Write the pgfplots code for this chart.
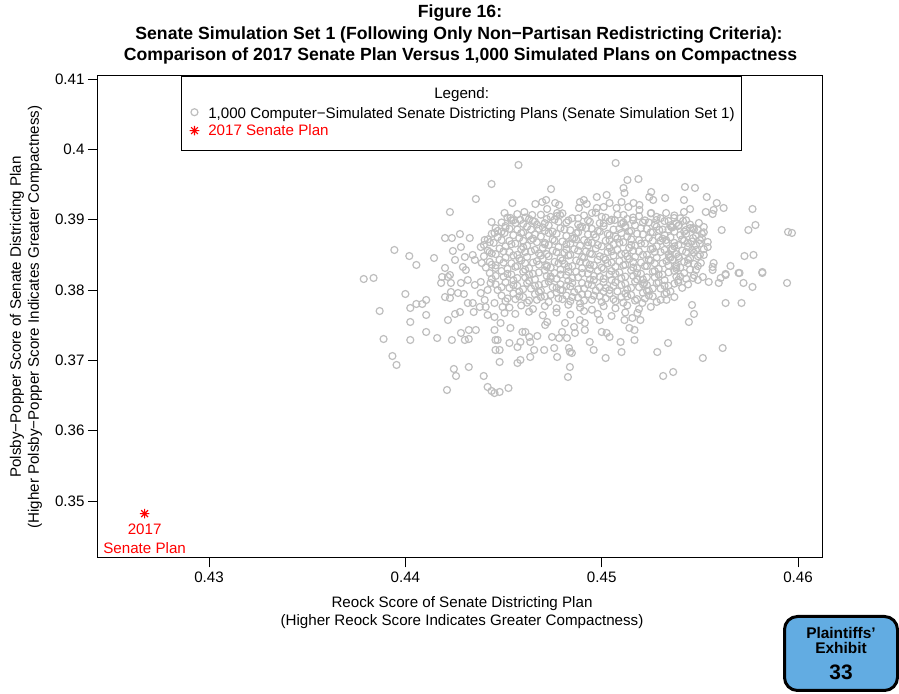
\documentclass[border=0pt]{standalone}
\usepackage{fontspec}
\setmainfont{Liberation Sans}
\usepackage{pgfplots}
\pgfplotsset{compat=1.18}
\definecolor{rgray}{RGB}{190,190,190}
\definecolor{exblue}{RGB}{98,172,226}

% R pch=8 style star (+ and x)
\pgfdeclareplotmark{rstar}{%
  \pgfpathmoveto{\pgfqpoint{-\pgfplotmarksize}{0pt}}\pgfpathlineto{\pgfqpoint{\pgfplotmarksize}{0pt}}%
  \pgfpathmoveto{\pgfqpoint{0pt}{-\pgfplotmarksize}}\pgfpathlineto{\pgfqpoint{0pt}{\pgfplotmarksize}}%
  \pgfpathmoveto{\pgfqpoint{-.7071\pgfplotmarksize}{-.7071\pgfplotmarksize}}\pgfpathlineto{\pgfqpoint{.7071\pgfplotmarksize}{.7071\pgfplotmarksize}}%
  \pgfpathmoveto{\pgfqpoint{-.7071\pgfplotmarksize}{.7071\pgfplotmarksize}}\pgfpathlineto{\pgfqpoint{.7071\pgfplotmarksize}{-.7071\pgfplotmarksize}}%
  \pgfusepathqstroke}

\begin{document}
\begin{tikzpicture}
\useasboundingbox (0,0) rectangle (899bp,694bp);

% title
\node[font=\fontsize{17.7}{20}\selectfont\bfseries] at (460bp,681bp) {Figure 16:};
\node[font=\fontsize{17.7}{20}\selectfont\bfseries] at (459bp,659.5bp) {Senate Simulation Set 1 (Following Only Non−Partisan Redistricting Criteria):};
\node[font=\fontsize{17.7}{20}\selectfont\bfseries] at (460.5bp,638bp) {Comparison of 2017 Senate Plan Versus 1,000 Simulated Plans on Compactness};

\begin{axis}[
  at={(97.5bp,136bp)}, anchor=south west,
  width=724.5bp, height=482bp, scale only axis,
  xmin=0.42432, xmax=0.46122,
  ymin=0.34189, ymax=0.41043,
  xtick={0.43,0.44,0.45,0.46},
  ytick={0.35,0.36,0.37,0.38,0.39,0.4,0.41},
  xtick pos=bottom, ytick pos=left,
  tick align=outside,
  major tick length=9.5bp,
  tick style={black, line width=0.9bp},
  axis line style={black, line width=1bp},
  /pgf/number format/assume math mode=true,
  /pgf/number format/fixed,
  /pgf/number format/precision=2,
  ticklabel style={font=\fontsize{15.2}{17}\selectfont},
  xticklabel style={yshift=-1bp},
  xlabel={Reock Score of Senate Districting Plan\\(Higher Reock Score Indicates Greater Compactness)},
  ylabel={Polsby−Popper Score of Senate Districting Plan\\(Higher Polsby−Popper Score Indicates Greater Compactness)},
  xlabel style={at={(axis description cs:0.5031,-0.1141)}, anchor=center,
    font=\fontsize{15.2}{18}\selectfont, align=center},
  ylabel style={at={(axis description cs:-0.0988,0.5)}, rotate=0, anchor=center,
    font=\fontsize{15.2}{18}\selectfont, align=center},
  legend style={at={(axis description cs:0.1152,1)}, anchor=north west,
    draw=black, line width=1bp, font=\fontsize{15.2}{17}\selectfont,
    inner xsep=4.5bp, inner ysep=3bp, row sep=0bp},
  legend cell align=left,
  clip=false,
]
\addlegendimage{empty legend}
\addlegendentry{\hspace*{233bp}\raisebox{0pt}[17bp][0bp]{Legend:}}

\addplot[only marks, mark=o, mark size=3.5bp, mark options={draw=rgray, line width=1.2bp}] coordinates {
% sparse outer points
(0.44439,0.39507) (0.44359,0.39294) (0.44227,0.39109) (0.44439,0.38967) (0.44202,0.38739)
(0.44237,0.38739) (0.44278,0.38796) (0.44328,0.38739) (0.43944,0.38569) (0.44020,0.38483)
(0.44056,0.38356) (0.44146,0.38455) (0.44454,0.38811) (0.44242,0.38555) (0.44283,0.38611)
(0.44253,0.38427) (0.44303,0.38469) (0.44343,0.38498) (0.44384,0.38611) (0.44404,0.38711)
(0.44354,0.38427) (0.44389,0.38384) (0.44429,0.38540) (0.44293,0.38327) (0.44202,0.38313)
(0.44187,0.38185) (0.44227,0.38213) (0.44308,0.38284) (0.44459,0.38313) (0.43788,0.38156)
(0.43838,0.38171) (0.44000,0.37943) (0.43869,0.37701) (0.44025,0.37744) (0.44056,0.37801)
(0.44086,0.37801) (0.44106,0.37858) (0.44106,0.37645) (0.44025,0.37545) (0.43889,0.37303)
(0.44025,0.37289) (0.44106,0.37403) (0.44162,0.37317) (0.44217,0.37573) (0.44253,0.37659)
(0.44278,0.37687) (0.44237,0.37289) (0.44283,0.37389) (0.44303,0.37289) (0.44323,0.37303)
(0.44323,0.37431) (0.44359,0.37431) (0.43934,0.37061) (0.43955,0.36934) (0.44247,0.36877)
(0.44258,0.36777) (0.44323,0.36905) (0.44399,0.36777) (0.44212,0.36578) (0.44419,0.36621)
(0.44439,0.36564) (0.44454,0.36535) (0.44182,0.38100) (0.44217,0.38185) (0.44202,0.37900)
(0.44227,0.37886) (0.44232,0.37972) (0.44268,0.37957) (0.44298,0.37943) (0.44318,0.37815)
(0.44343,0.37815) (0.44348,0.37687) (0.44379,0.37758) (0.44409,0.37758) (0.44404,0.37858)
(0.44419,0.37645) (0.44454,0.37616) (0.44454,0.37815) (0.44384,0.37957) (0.44419,0.38000)
(0.44434,0.38100) (0.44354,0.38071) (0.44384,0.38114) (0.44318,0.38142) (0.44283,0.38100)
(0.44232,0.38100) (0.44454,0.37431) (0.44459,0.37289) (0.44459,0.37147)
(0.44495,0.37758) (0.44505,0.37673) (0.44535,0.37460) (0.44485,0.37531) (0.44470,0.37289)
(0.44530,0.37246) (0.44480,0.37147) (0.44480,0.36976) (0.44571,0.37189) (0.44586,0.37261)
(0.44596,0.37403) (0.44611,0.37403) (0.44631,0.37332) (0.44636,0.37261) (0.44672,0.37346)
(0.44656,0.37147) (0.44707,0.37147) (0.44586,0.37005) (0.44571,0.36962) (0.44636,0.37047)
(0.44525,0.36606) (0.44480,0.36550) (0.44712,0.37502) (0.44722,0.37545) (0.44747,0.37332)
(0.44758,0.37175) (0.44773,0.37047) (0.44783,0.37317) (0.44798,0.37403) (0.44823,0.37317)
(0.44833,0.37175) (0.44838,0.37118) (0.44848,0.37104) (0.44838,0.36905) (0.44828,0.36763)
(0.44813,0.37531) (0.44859,0.37474) (0.44889,0.37573) (0.44914,0.37531) (0.44914,0.37431)
(0.44864,0.37389) (0.44939,0.37261) (0.44959,0.37147) (0.44990,0.37573) (0.45000,0.37403)
(0.45025,0.37389) (0.45040,0.37332) (0.45020,0.37033) (0.45096,0.37261) (0.45101,0.37118)
(0.45167,0.37289) (0.45141,0.37460) (0.45116,0.37573) (0.45156,0.37602) (0.45167,0.37431)
(0.45182,0.37673) (0.45207,0.37815) (0.45217,0.38100) (0.45197,0.37573)
(0.45465,0.38171) (0.45490,0.38142) (0.45515,0.38185) (0.45545,0.38114) (0.45565,0.38284)
(0.45596,0.38100) (0.45606,0.38171) (0.45631,0.38228) (0.45702,0.38242) (0.45722,0.38100)
(0.45768,0.38043) (0.45818,0.38242) (0.45944,0.38100) (0.45460,0.37787) (0.45470,0.37659)
(0.45444,0.37545) (0.45631,0.37815) (0.45712,0.37815) (0.45338,0.37246) (0.45283,0.37118)
(0.45616,0.37175) (0.45515,0.37033) (0.45364,0.36834) (0.45313,0.36777)
(0.45252,0.39394) (0.45242,0.39322) (0.45262,0.39280) (0.45323,0.39308) (0.45424,0.39465)
(0.45475,0.39451) (0.45535,0.39322) (0.45586,0.39237) (0.45419,0.39280) (0.45450,0.39152)
(0.45419,0.39109) (0.45530,0.39109) (0.45565,0.39081) (0.45570,0.39138) (0.45621,0.39166)
(0.45768,0.39152) (0.45783,0.38924) (0.45747,0.38853) (0.45611,0.38853) (0.45949,0.38825)
(0.45969,0.38811) (0.45727,0.38483) (0.45773,0.38498) (0.45818,0.38256) (0.45656,0.38341)
(0.45697,0.38242) (0.45570,0.38384) (0.45631,0.38213) (0.45328,0.39095) (0.45369,0.39024)
(0.45354,0.38896) (0.45394,0.38924) (0.45414,0.38981) (0.45429,0.38853) (0.45465,0.38882)
(0.45495,0.38953) (0.45520,0.38896) (0.45540,0.38683) (0.45540,0.38611) (0.45465,0.38739)
(0.45439,0.38668) (0.45480,0.38569) (0.45520,0.38498) (0.45505,0.38384) (0.45565,0.38327)
(0.45480,0.38284) (0.45379,0.38327) (0.45394,0.38455) (0.45343,0.38469) (0.45354,0.38569)
(0.45328,0.38711) (0.45293,0.38853) (0.45278,0.38995) (0.45252,0.39095)
(0.44576,0.39778) (0.45071,0.39806) (0.45131,0.39564) (0.45187,0.39578) (0.44742,0.39436)
(0.45111,0.39450) (0.45116,0.39379) (0.44545,0.39237) (0.44662,0.39223) (0.44697,0.39251)
(0.44717,0.39280) (0.44722,0.39152) (0.44763,0.39237) (0.44783,0.39209) (0.44773,0.39095)
(0.44788,0.39067) (0.44889,0.39251) (0.44909,0.39280) (0.44924,0.39223) (0.44975,0.39322)
(0.45025,0.39351) (0.45040,0.39237) (0.45010,0.39180) (0.44975,0.39166) (0.44950,0.39095)
(0.44884,0.39166) (0.45101,0.39251) (0.45136,0.39180) (0.45162,0.39237) (0.45192,0.39209)
(0.45192,0.39138) (0.45076,0.39166) (0.45066,0.38995) (0.45111,0.39067) (0.44505,0.39095)
(0.44535,0.39024) (0.44606,0.39109) (0.44646,0.39067) (0.44586,0.38995) (0.44561,0.38953)
(0.44510,0.38882) (0.44505,0.38811)
% dense core, first layer
(0.4452,0.3903) (0.4457,0.3908) (0.4463,0.3901) (0.4469,0.3907) (0.4474,0.3904) (0.4480,0.3909)
(0.4485,0.3902) (0.4491,0.3906) (0.4497,0.3910) (0.4502,0.3903) (0.4508,0.3907) (0.4513,0.3901)
(0.4519,0.3905) (0.4525,0.3909) (0.4530,0.3902) (0.4537,0.3906)
(0.4449,0.3896) (0.4454,0.3899) (0.4460,0.3894) (0.4465,0.3898) (0.4471,0.3895) (0.4476,0.3900)
(0.4482,0.3896) (0.4488,0.3893) (0.4493,0.3899) (0.4499,0.3895) (0.4504,0.3898) (0.4510,0.3894)
(0.4516,0.3899) (0.4521,0.3896) (0.4527,0.3893) (0.4532,0.3898) (0.4538,0.3895) (0.4543,0.3899)
(0.4446,0.3888) (0.4451,0.3891) (0.4457,0.3886) (0.4462,0.3890) (0.4468,0.3887) (0.4473,0.3892)
(0.4479,0.3888) (0.4484,0.3885) (0.4490,0.3890) (0.4495,0.3887) (0.4501,0.3891) (0.4506,0.3886)
(0.4512,0.3889) (0.4517,0.3892) (0.4523,0.3887) (0.4528,0.3890) (0.4534,0.3886) (0.4539,0.3891)
(0.4545,0.3888) (0.4549,0.3885)
(0.4444,0.3880) (0.4449,0.3883) (0.4455,0.3878) (0.4460,0.3882) (0.4466,0.3879) (0.4471,0.3884)
(0.4477,0.3880) (0.4482,0.3877) (0.4488,0.3882) (0.4493,0.3879) (0.4499,0.3883) (0.4504,0.3878)
(0.4510,0.3881) (0.4515,0.3884) (0.4521,0.3879) (0.4526,0.3882) (0.4532,0.3878) (0.4537,0.3883)
(0.4543,0.3880) (0.4548,0.3877) (0.4552,0.3882)
(0.4442,0.3872) (0.4447,0.3875) (0.4453,0.3870) (0.4458,0.3874) (0.4464,0.3871) (0.4469,0.3876)
(0.4475,0.3872) (0.4480,0.3869) (0.4486,0.3874) (0.4491,0.3871) (0.4497,0.3875) (0.4502,0.3870)
(0.4508,0.3873) (0.4513,0.3876) (0.4519,0.3871) (0.4524,0.3874) (0.4530,0.3870) (0.4535,0.3875)
(0.4541,0.3872) (0.4546,0.3869) (0.4551,0.3874)
(0.4440,0.3864) (0.4445,0.3867) (0.4451,0.3862) (0.4456,0.3866) (0.4462,0.3863) (0.4467,0.3868)
(0.4473,0.3864) (0.4478,0.3861) (0.4484,0.3866) (0.4489,0.3863) (0.4495,0.3867) (0.4500,0.3862)
(0.4506,0.3865) (0.4511,0.3868) (0.4517,0.3863) (0.4522,0.3866) (0.4528,0.3862) (0.4533,0.3867)
(0.4539,0.3864) (0.4544,0.3861) (0.4550,0.3866)
(0.4442,0.3856) (0.4448,0.3859) (0.4453,0.3854) (0.4459,0.3858) (0.4464,0.3855) (0.4470,0.3860)
(0.4475,0.3856) (0.4481,0.3853) (0.4486,0.3858) (0.4492,0.3855) (0.4497,0.3859) (0.4503,0.3854)
(0.4508,0.3857) (0.4514,0.3860) (0.4519,0.3855) (0.4525,0.3858) (0.4530,0.3854) (0.4536,0.3859)
(0.4541,0.3856) (0.4547,0.3853) (0.4552,0.3858)
(0.4440,0.3848) (0.4446,0.3851) (0.4451,0.3846) (0.4457,0.3850) (0.4462,0.3847) (0.4468,0.3852)
(0.4473,0.3848) (0.4479,0.3845) (0.4484,0.3850) (0.4490,0.3847) (0.4495,0.3851) (0.4501,0.3846)
(0.4506,0.3849) (0.4512,0.3852) (0.4517,0.3847) (0.4523,0.3850) (0.4528,0.3846) (0.4534,0.3851)
(0.4539,0.3848) (0.4545,0.3845) (0.4550,0.3850)
(0.4443,0.3840) (0.4448,0.3843) (0.4454,0.3838) (0.4459,0.3842) (0.4465,0.3839) (0.4470,0.3844)
(0.4476,0.3840) (0.4481,0.3837) (0.4487,0.3842) (0.4492,0.3839) (0.4498,0.3843) (0.4503,0.3838)
(0.4509,0.3841) (0.4514,0.3844) (0.4520,0.3839) (0.4525,0.3842) (0.4531,0.3838) (0.4536,0.3843)
(0.4542,0.3840) (0.4547,0.3837)
(0.4441,0.3832) (0.4446,0.3835) (0.4452,0.3830) (0.4457,0.3834) (0.4463,0.3831) (0.4468,0.3836)
(0.4474,0.3832) (0.4479,0.3829) (0.4485,0.3834) (0.4490,0.3831) (0.4496,0.3835) (0.4501,0.3830)
(0.4507,0.3833) (0.4512,0.3836) (0.4518,0.3831) (0.4523,0.3834) (0.4529,0.3830) (0.4534,0.3835)
(0.4540,0.3832) (0.4545,0.3829) (0.4549,0.3834)
(0.4443,0.3824) (0.4449,0.3827) (0.4454,0.3822) (0.4460,0.3826) (0.4465,0.3823) (0.4471,0.3828)
(0.4476,0.3824) (0.4482,0.3821) (0.4487,0.3826) (0.4493,0.3823) (0.4498,0.3827) (0.4504,0.3822)
(0.4509,0.3825) (0.4515,0.3828) (0.4520,0.3823) (0.4526,0.3826) (0.4531,0.3822) (0.4537,0.3827)
(0.4542,0.3824) (0.4547,0.3821)
(0.4444,0.3816) (0.4450,0.3819) (0.4455,0.3814) (0.4461,0.3818) (0.4466,0.3815) (0.4472,0.3820)
(0.4477,0.3816) (0.4483,0.3813) (0.4488,0.3818) (0.4494,0.3815) (0.4499,0.3819) (0.4505,0.3814)
(0.4510,0.3817) (0.4516,0.3820) (0.4521,0.3815) (0.4527,0.3818) (0.4532,0.3814) (0.4538,0.3819)
(0.4543,0.3816)
(0.4446,0.3808) (0.4451,0.3811) (0.4457,0.3806) (0.4462,0.3810) (0.4468,0.3807) (0.4473,0.3812)
(0.4479,0.3808) (0.4484,0.3805) (0.4490,0.3810) (0.4495,0.3807) (0.4501,0.3811) (0.4506,0.3806)
(0.4512,0.3809) (0.4517,0.3812) (0.4523,0.3807) (0.4528,0.3810) (0.4534,0.3806) (0.4539,0.3811)
(0.4544,0.3808)
(0.4447,0.3800) (0.4453,0.3803) (0.4458,0.3798) (0.4464,0.3802) (0.4469,0.3799) (0.4475,0.3804)
(0.4480,0.3800) (0.4486,0.3797) (0.4491,0.3802) (0.4497,0.3799) (0.4502,0.3803) (0.4508,0.3798)
(0.4513,0.3801) (0.4519,0.3804) (0.4524,0.3799) (0.4530,0.3802) (0.4535,0.3798) (0.4541,0.3803)
(0.4449,0.3792) (0.4455,0.3795) (0.4460,0.3790) (0.4466,0.3794) (0.4471,0.3791) (0.4477,0.3796)
(0.4482,0.3792) (0.4488,0.3789) (0.4493,0.3794) (0.4499,0.3791) (0.4504,0.3795) (0.4510,0.3790)
(0.4515,0.3793) (0.4521,0.3796) (0.4526,0.3791) (0.4532,0.3794) (0.4537,0.3790)
(0.4451,0.3784) (0.4456,0.3787) (0.4462,0.3782) (0.4467,0.3786) (0.4473,0.3783) (0.4478,0.3788)
(0.4484,0.3784) (0.4489,0.3781) (0.4495,0.3786) (0.4500,0.3783) (0.4506,0.3787) (0.4511,0.3782)
(0.4517,0.3785) (0.4522,0.3788) (0.4528,0.3783) (0.4533,0.3786)
(0.4453,0.3775) (0.4459,0.3778) (0.4465,0.3773) (0.4471,0.3777) (0.4477,0.3774) (0.4483,0.3779)
(0.4489,0.3775) (0.4495,0.3772) (0.4501,0.3777) (0.4507,0.3774) (0.4513,0.3778) (0.4519,0.3773)
(0.4525,0.3776)
(0.4456,0.3766) (0.4463,0.3769) (0.4470,0.3764) (0.4477,0.3768) (0.4484,0.3765) (0.4491,0.3770)
(0.4498,0.3766) (0.4505,0.3763) (0.4512,0.3768)
% dense core, second layer
(0.4455,0.3899) (0.4461,0.3903) (0.4466,0.3897) (0.4472,0.3901) (0.4477,0.3905) (0.4483,0.3899)
(0.4488,0.3902) (0.4494,0.3897) (0.4500,0.3904) (0.4505,0.3900) (0.4511,0.3896) (0.4516,0.3903)
(0.4522,0.3899) (0.4528,0.3904) (0.4534,0.3898) (0.4540,0.3902)
(0.4447,0.3884) (0.4453,0.3887) (0.4459,0.3881) (0.4464,0.3886) (0.4470,0.3889) (0.4475,0.3883)
(0.4481,0.3886) (0.4487,0.3881) (0.4492,0.3888) (0.4498,0.3884) (0.4503,0.3880) (0.4509,0.3887)
(0.4514,0.3883) (0.4520,0.3888) (0.4525,0.3882) (0.4531,0.3886) (0.4536,0.3889) (0.4542,0.3883)
(0.4547,0.3886) (0.4551,0.3880)
(0.4443,0.3868) (0.4449,0.3871) (0.4454,0.3865) (0.4460,0.3870) (0.4465,0.3873) (0.4471,0.3867)
(0.4476,0.3870) (0.4482,0.3865) (0.4487,0.3872) (0.4493,0.3868) (0.4498,0.3864) (0.4504,0.3871)
(0.4509,0.3867) (0.4515,0.3872) (0.4520,0.3866) (0.4526,0.3870) (0.4531,0.3873) (0.4537,0.3867)
(0.4542,0.3870) (0.4548,0.3864)
(0.4444,0.3852) (0.4450,0.3855) (0.4455,0.3849) (0.4461,0.3854) (0.4466,0.3857) (0.4472,0.3851)
(0.4477,0.3854) (0.4483,0.3849) (0.4488,0.3856) (0.4494,0.3852) (0.4499,0.3848) (0.4505,0.3855)
(0.4510,0.3851) (0.4516,0.3856) (0.4521,0.3850) (0.4527,0.3854) (0.4532,0.3857) (0.4538,0.3851)
(0.4543,0.3854) (0.4549,0.3848)
(0.4444,0.3836) (0.4450,0.3839) (0.4456,0.3833) (0.4461,0.3838) (0.4467,0.3841) (0.4472,0.3835)
(0.4478,0.3838) (0.4483,0.3833) (0.4489,0.3840) (0.4494,0.3836) (0.4500,0.3832) (0.4505,0.3839)
(0.4511,0.3835) (0.4516,0.3840) (0.4522,0.3834) (0.4527,0.3838) (0.4533,0.3841) (0.4538,0.3835)
(0.4544,0.3838)
(0.4446,0.3820) (0.4452,0.3823) (0.4457,0.3817) (0.4463,0.3822) (0.4468,0.3825) (0.4474,0.3819)
(0.4479,0.3822) (0.4485,0.3817) (0.4490,0.3824) (0.4496,0.3820) (0.4501,0.3816) (0.4507,0.3823)
(0.4512,0.3819) (0.4518,0.3824) (0.4523,0.3818) (0.4529,0.3822) (0.4534,0.3825) (0.4540,0.3819)
(0.4449,0.3804) (0.4455,0.3807) (0.4460,0.3801) (0.4466,0.3806) (0.4471,0.3809) (0.4477,0.3803)
(0.4482,0.3806) (0.4488,0.3801) (0.4493,0.3808) (0.4499,0.3804) (0.4504,0.3800) (0.4510,0.3807)
(0.4515,0.3803) (0.4521,0.3808) (0.4526,0.3802) (0.4532,0.3806) (0.4537,0.3809)
(0.4452,0.3788) (0.4458,0.3791) (0.4463,0.3785) (0.4469,0.3790) (0.4474,0.3793) (0.4480,0.3787)
(0.4485,0.3790) (0.4491,0.3785) (0.4496,0.3792) (0.4502,0.3788) (0.4507,0.3784) (0.4513,0.3791)
(0.4518,0.3787) (0.4524,0.3792) (0.4530,0.3786)
% dense core, third layer
(0.4467,0.3893) (0.4478,0.3897) (0.4489,0.3889) (0.4501,0.3895) (0.4512,0.3891) (0.4524,0.3896)
(0.4535,0.3892) (0.4545,0.3893)
(0.4463,0.3877) (0.4473,0.3881) (0.4485,0.3873) (0.4496,0.3879) (0.4507,0.3876) (0.4518,0.3880)
(0.4529,0.3875) (0.4540,0.3878) (0.4550,0.3871)
(0.4460,0.3861) (0.4471,0.3865) (0.4482,0.3858) (0.4493,0.3863) (0.4504,0.3860) (0.4515,0.3864)
(0.4526,0.3859) (0.4537,0.3862) (0.4546,0.3857)
(0.4458,0.3845) (0.4469,0.3849) (0.4480,0.3842) (0.4491,0.3846) (0.4502,0.3843) (0.4513,0.3848)
(0.4524,0.3843) (0.4535,0.3846) (0.4544,0.3843)
(0.4461,0.3829) (0.4472,0.3833) (0.4483,0.3826) (0.4494,0.3830) (0.4505,0.3827) (0.4516,0.3832)
(0.4527,0.3827) (0.4538,0.3830)
(0.4463,0.3813) (0.4474,0.3816) (0.4485,0.3810) (0.4496,0.3814) (0.4507,0.3811) (0.4518,0.3815)
(0.4529,0.3811) (0.4539,0.3814)
(0.4468,0.3797) (0.4479,0.3800) (0.4490,0.3794) (0.4501,0.3798) (0.4512,0.3795) (0.4523,0.3799)
(0.4533,0.3796)
};
\addlegendentry{\hspace*{7bp}\raisebox{0pt}[15bp][0bp]{1,000 Computer−Simulated Senate Districting Plans (Senate Simulation Set 1)}}

\addplot[only marks, mark=rstar, mark size=4.8bp, mark options={draw=red, line width=1.1bp}] coordinates {(0.42672,0.34820)};
\addlegendentry{\hspace*{7bp}\textcolor{red}{2017 Senate Plan}}

\addlegendimage{empty legend}
\addlegendentry{\rule{0pt}{3bp}}

\node[red, align=center, font=\fontsize{15.2}{18.5}\selectfont, anchor=north] at (axis cs:0.42672,0.34720) {2017\\Senate Plan};
\end{axis}

% exhibit sticker
\node[draw=black, line width=3bp, rounded corners=13bp, fill=exblue,
  minimum width=113bp, minimum height=74bp, inner sep=0pt] at (841bp,40.5bp) {};
\node[font=\fontsize{15.5}{15}\selectfont\bfseries] at (841bp,61bp) {Plaintiffs’};
\node[font=\fontsize{15.5}{15}\selectfont\bfseries] at (841bp,46bp) {Exhibit};
\node[font=\fontsize{21}{20}\selectfont\bfseries] at (841bp,22bp) {33};
\end{tikzpicture}
\end{document}
